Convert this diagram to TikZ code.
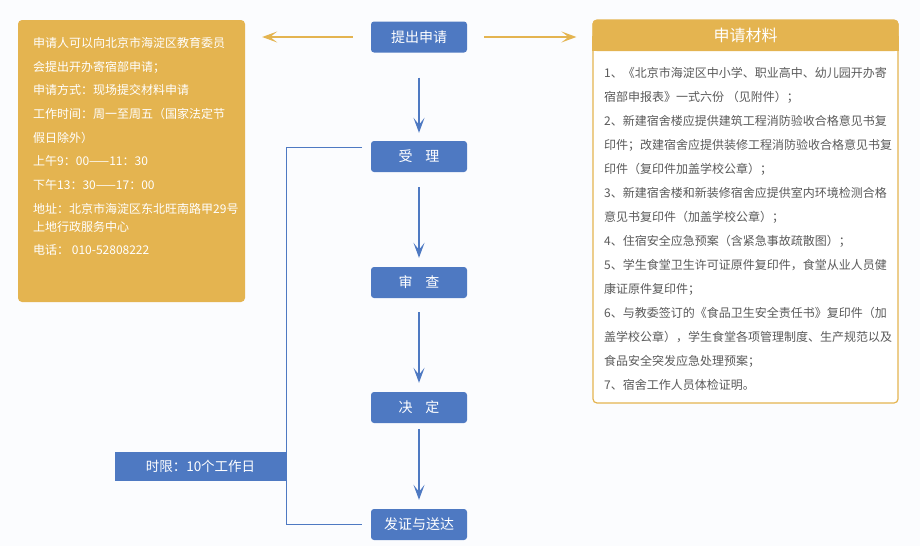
\documentclass[tikz,border=0pt]{standalone}
\usepackage{fontspec}
\setmainfont{Noto Sans CJK SC}
\usetikzlibrary{arrows.meta,calc}
\definecolor{gold}{HTML}{E4B450}
\definecolor{blau}{HTML}{4E79C2}
\definecolor{grau}{HTML}{5A5A5A}
\definecolor{hgrund}{HTML}{FBFCFE}

\begin{document}
\begin{tikzpicture}[x=1pt,y=-1pt,
  schritt/.style={fill=blau,text=white,rounded corners=3pt,minimum width=96pt,minimum height=31pt,inner sep=0pt,font=\fontsize{14}{14}\selectfont},
  pfeil/.style={blau,line width=1.5pt,-{Stealth[length=15pt,width=11pt,inset=7pt]}},
  gpfeil/.style={gold,line width=1.5pt,-{Stealth[length=15pt,width=11pt,inset=7pt]}},
  klammer/.style={blau,line width=0.9pt}]
  \fill[hgrund] (0,0) rectangle (920,546);
  \useasboundingbox (0,0) rectangle (920,546);
  % left info box
  \node[fill=gold,rounded corners=4pt,minimum width=227pt,minimum height=282pt,inner sep=0pt] (infobox) at (131.5,161) {};
  \node[anchor=north west,inner sep=0pt,text=white,align=left,font=\fontsize{12}{23.7}\selectfont] (info) at (33,37)
    {申请人可以向北京市海淀区教育委员\\
     会提出开办寄宿部申请；\\
     申请方式：现场提交材料申请\\
     工作时间：周一至周五（国家法定节\\
     假日除外）\\
     上午9：00——11：30\\
     下午13：30——17：00\\
     地址：北京市海淀区东北旺南路甲29号\\[-5.7pt]
     上地行政服务中心\\
     电话： 010-52808222};
  % right materials box
  \node[draw=gold,line width=1.2pt,fill=white,rounded corners=4pt,minimum width=305pt,minimum height=383pt,inner sep=0pt] (material) at (745.5,211.5) {};
  \node[fill=gold,rounded corners=4pt,minimum width=306pt,minimum height=31pt,inner sep=0pt] (kopf) at (745.5,35.5) {};
  \fill[gold] (kopf.west) rectangle (kopf.south east);
  \node[text=white,font=\fontsize{16}{16}\selectfont] (kopftext) at (kopf) {申请材料};
  \node[anchor=north west,inner sep=0pt,text=grau,align=left,font=\fontsize{12}{24}\selectfont] (liste) at (604,67)
    {1、《北京市海淀区中小学、职业高中、幼儿园开办寄\\
     宿部申报表》一式六份 （见附件）；\\
     2、新建宿舍楼应提供建筑工程消防验收合格意见书复\\
     印件；改建宿舍应提供装修工程消防验收合格意见书复\\
     印件（复印件加盖学校公章）；\\
     3、新建宿舍楼和新装修宿舍应提供室内环境检测合格\\
     意见书复印件（加盖学校公章）；\\
     4、住宿安全应急预案（含紧急事故疏散图）；\\
     5、学生食堂卫生许可证原件复印件，食堂从业人员健\\
     康证原件复印件；\\
     6、与教委签订的《食品卫生安全责任书》复印件（加\\
     盖学校公章），学生食堂各项管理制度、生产规范以及\\
     食品安全突发应急处理预案；\\
     7、宿舍工作人员体检证明。};
  % flow steps
  \node[schritt] (tichu) at (419,37) {提出申请};
  \node[schritt] (shouli) at (419,156.5) {受\hspace{0.9em}理};
  \node[schritt] (shencha) at (419,282.5) {审\hspace{0.9em}查};
  \node[schritt] (jueding) at (419,407.5) {决\hspace{0.9em}定};
  \node[schritt] (fazheng) at (419,524.5) {发证与送达};
  \draw[pfeil,shorten <=25pt,shorten >=8pt] (tichu) -- (shouli);
  \draw[pfeil,shorten <=15pt,shorten >=9pt] (shouli) -- (shencha);
  \draw[pfeil,shorten <=14pt,shorten >=9pt] (shencha) -- (jueding);
  \draw[pfeil,shorten <=6pt,shorten >=9pt] (jueding) -- (fazheng);
  \draw[gpfeil,shorten <=18pt,shorten >=17pt] (tichu.west) -- (tichu.west -| infobox.east);
  \draw[gpfeil,shorten <=17pt,shorten >=16pt] (tichu.east) -- (tichu.east -| material.west);
  % time limit bracket
  \node[fill=blau,text=white,minimum width=171pt,minimum height=29pt,inner sep=0pt,font=\fontsize{13.5}{13.5}\selectfont] (frist) at (200.5,466.5) {时限：10个工作日};
  \coordinate (oben) at (362,147);
  \coordinate (unten) at (362,524);
  \draw[klammer] (oben) -- (oben -| frist.east) -- (unten -| frist.east) -- (unten);
\end{tikzpicture}
\end{document}
